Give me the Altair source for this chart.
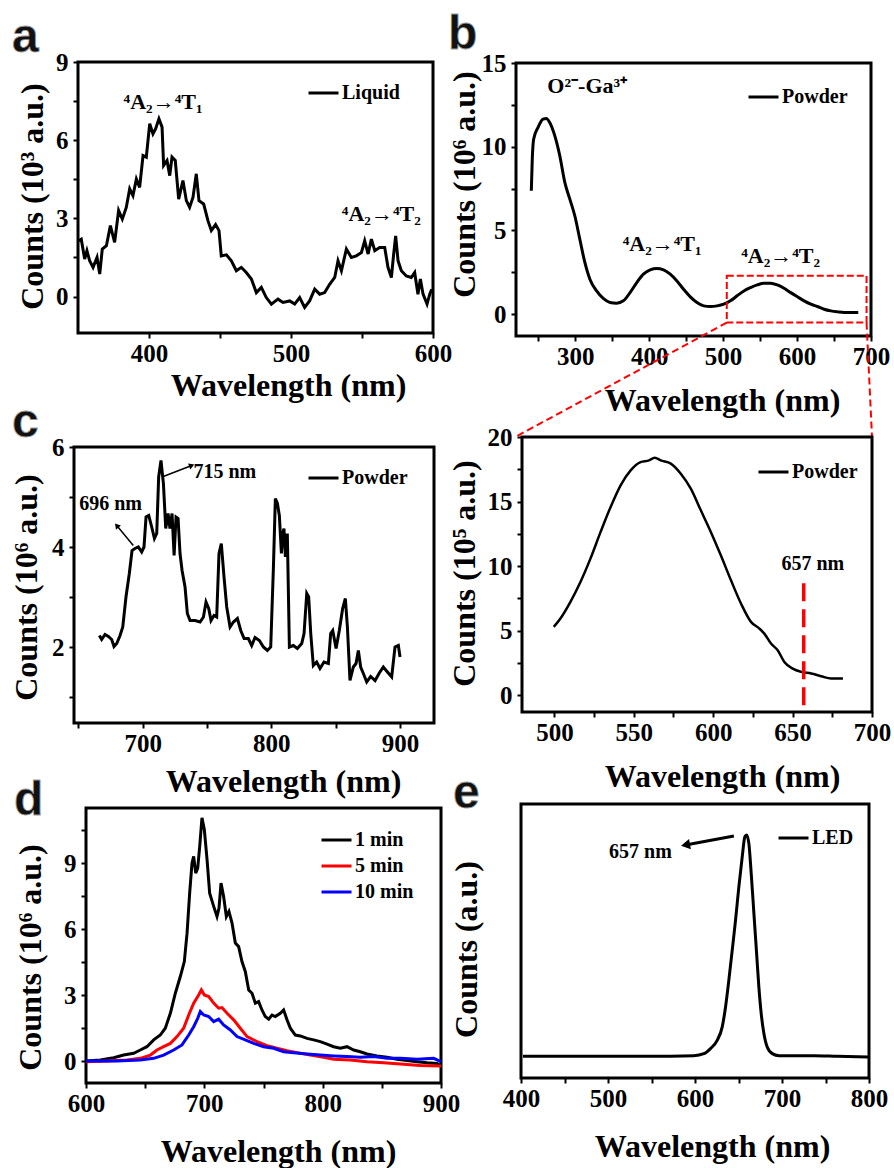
import math
import altair as alt
import pandas as pd

W, H = 894, 1168
SERIF = "Liberation Serif"
SANS = "Liberation Sans"

# ---------------- data ----------------
# (a) liquid, counts in 10^3 a.u.
a_wl = [350.5,352.3,354.7,356.3,358.2,360.6,363.4,365.3,367.1,370,372.8,375.8,378.6,381.2,384,386.4,388.7,391.1,393.4,395.8,398.1,400.5,402.8,404.7,407,409.2,410.3,412.7,414.6,416.2,418.5,420.9,423.9,426.3,428.6,431,433.3,435.2,438.5,441.5,443.9,446.9,449.3,450.9,454.5,458,461.5,465,468.5,472.1,475.6,479.1,482.6,486.2,490.8,494.4,499.1,502.6,506.1,509.6,513.1,516.7,520.2,523.7,527.2,530.8,533.1,535.5,539,542.5,546,549.6,551.9,554.3,556.6,559,562.4,566,568.3,570.7,572.3,573.7,575.4,577.7,581.2,584.7,587.1,589.4,591.1,593,595.8,597.7,599.1]
a_cnt = [2.14,2.2,1.44,1.76,1.37,1.12,1.5,0.86,1.82,1.95,2.72,2.08,3.3,2.97,3.42,4.13,3.87,4.51,4.19,5.41,5.35,6.63,6.24,6.44,6.82,6.5,5.03,5.22,4.64,5.35,5.22,3.74,4.45,3.68,3.42,3.81,4.71,3.68,3.55,2.91,2.53,2.76,2.53,1.56,1.6,1.37,0.99,1.12,0.92,0.67,0.15,0.35,-0.04,-0.29,-0.1,-0.23,-0.17,-0.29,-0.04,-0.42,-0.17,0.28,0.09,0.15,0.47,0.73,1.37,0.99,1.82,1.5,1.56,1.69,2.14,1.63,2.2,1.76,1.88,1.88,1.12,0.73,1.63,2.33,1.37,0.99,0.79,0.73,0.92,0.09,0.67,0.09,-0.29,0.09,0.28]

# (b) powder excitation, counts in 10^6 a.u.
b_wl = [240.7,242,243.9,249.8,256.6,261,265.6,272.4,279.2,286,292.8,299.5,306.3,313.1,319.9,329,338,347.1,356.1,365.2,374.2,383.3,392.3,401.4,410.4,419.5,428.5,437.6,446.6,455.7,464.7,473.8,482.8,491.9,500.9,510,519,528.1,537.1,546.2,555.2,564.3,573.3,582.4,591.4,600.5,609.5,618.6,627.6,636.7,645.7,654.8,663.8,672.9,682.8]
b_cnt = [7.37,9.26,10.46,11.16,11.65,11.69,11.45,10.66,9.46,7.87,6.87,5.88,4.48,3.09,2.09,1.39,0.94,0.7,0.66,0.8,1.29,1.89,2.39,2.65,2.73,2.65,2.39,1.99,1.49,1.04,0.7,0.5,0.46,0.5,0.6,0.8,1.1,1.39,1.59,1.75,1.85,1.85,1.75,1.55,1.29,1.04,0.8,0.6,0.46,0.3,0.2,0.14,0.1,0.1,0.1]

# (c) powder emission, counts in 10^6 a.u.
c_wl = [666.3,668.1,670.7,673.3,675.9,677.7,679.8,682.4,684.5,687,689.6,691.7,694,696.6,699.2,701,702.6,704.7,707,709.1,710.9,712.4,714.2,716.1,717.9,719.7,721.2,722.8,724.4,725.9,727.5,729,730.6,732.9,734.7,736.8,740.7,744.6,747.2,749.2,751.3,753.1,755.4,757.5,759.3,761.1,763.2,765.3,767.9,770.5,773.6,776.2,778.8,782.1,784.7,787.3,790.7,793.8,796.9,799.5,801.6,803.1,804.7,806.2,807.8,808.8,809.8,810.9,812.4,814,817.1,820.2,823.6,825.4,827.5,829,830.6,832.6,835.2,837.8,840.9,844.3,846.1,847.7,850.3,852.8,855.4,857.5,859.1,861.1,863.7,865.8,867.6,869.4,871.5,874.1,877.2,880.6,883.9,887,890.2,893.5,896.1,898.7,900]
c_cnt = [2.23,2.15,2.25,2.21,2.15,2.01,2.07,2.23,2.4,3,3.47,3.93,3.97,4,3.9,4,4.6,4.63,4.4,4.17,4.27,5.4,5.73,5.27,4.37,4.67,4.37,4.67,3.83,4.6,4.57,3.87,3.53,3.2,2.67,2.53,2.53,2.5,2.6,2.9,2.77,2.53,2.63,2.6,3.87,4.07,3.4,2.8,2.4,2.5,2.57,2.33,2.17,2.17,2.03,2.19,2.13,2,1.93,2,3.6,4.97,4.87,4.63,3.87,4.27,4.37,3.8,4.27,2,2.03,1.97,2.07,2.27,3.07,3,2.27,1.63,1.7,1.57,1.7,1.67,2.27,2.33,1.97,2.33,2.77,2.97,2.4,1.33,1.6,1.67,1.93,1.6,1.47,1.3,1.41,1.33,1.48,1.6,1.5,1.4,2,2.03,1.8]

# zoomed inset of (b), counts in 10^5 a.u.
i_wl = [499.6,503.8,510.1,516.4,522.7,529.1,535.4,541.7,548,554.3,559.6,563.2,566.9,573.3,579.6,585.9,592.2,598.5,604.8,611.2,617.5,623.8,629.1,632.2,636.4,640.6,644.8,650.1,655.4,661.7,668,674.3,681.7]
i_cnt = [5.29,5.94,7.23,8.77,10.58,12.65,14.58,16.26,17.42,18.06,18.19,18.4,18.19,17.94,17.16,16,14.32,12.65,10.84,8.9,7.1,5.68,5.16,4.77,4,3.48,2.58,2.06,1.81,1.68,1.47,1.29,1.29]

# (d) afterglow spectra, counts in 10^6 a.u.
d_series = ["1 min", "5 min", "10 min"]
d_colors = ["black", "red", "blue"]
d_wl_1 = [600,612.1,623.4,631.8,640.3,645.9,651.5,657.2,662.8,667,671.3,675.5,679.7,683.1,685.4,687.6,689.6,691,692.7,694.4,696.1,698,700,702.3,704.5,707.9,710.7,712.4,714.1,716.3,718.6,720.8,723.4,726.2,729,731.8,734.6,737.5,740.3,743.1,745.9,748.7,751.5,754.4,757.2,760,764.2,767,769.9,772.7,776.9,781.1,786.8,792.4,798,803.7,809.3,814.9,820.6,826.2,831.8,837.5,845.9,854.4,862.8,871.3,879.7,888.2,896.6,900]
d_cnt_1 = [0,0.05,0.15,0.27,0.35,0.5,0.65,0.96,1.18,1.49,2.17,3.08,3.84,4.52,5.81,7.63,9,9.3,8.54,8.77,9.76,11.05,10.52,9.15,7.63,7.03,6.57,6.95,8.09,7.48,6.57,6.8,6.27,5.36,5.2,4.52,4.07,3.23,3.08,2.63,2.7,2.32,2.02,1.9,2.09,2.02,2.17,2.32,1.87,1.49,1.18,1.14,1.03,0.96,0.88,0.77,0.65,0.58,0.65,0.5,0.42,0.32,0.23,0.17,0.08,0.02,-0.03,-0.08,-0.11,-0.23]
d_wl_5 = [600,617.7,634.6,645.9,654.4,660,665.6,671.3,676.9,682.5,686.8,691,695.2,697.5,700,703.7,707.9,712.1,714.9,719.2,724.8,730.4,736.1,744.5,753,761.4,769.9,778.3,789.6,800.8,809.3,823.4,837.5,851.5,865.6,882.5,900]
d_cnt_5 = [-0.03,0,0.05,0.12,0.27,0.5,0.65,0.8,1.11,1.49,2.09,2.63,3,3.23,3,2.93,2.63,2.4,2.43,2.17,1.87,1.49,1.11,0.88,0.7,0.58,0.47,0.38,0.27,0.17,0.08,0.05,-0.03,-0.08,-0.14,-0.2,-0.23]
d_wl_10 = [600,626.2,645.9,657.2,665.6,674.1,681.1,686.8,691,694.4,696.6,699.5,703.7,707.9,712.1,716.3,722,727.6,734.6,741.7,750.1,758.6,767,775.5,786.8,798,809.3,820.6,831.8,843.1,854.4,865.6,879.7,893.8,900]
d_cnt_10 = [0,0,0.05,0.12,0.27,0.5,0.73,1.18,1.56,1.94,2.25,2.09,2.02,1.79,1.9,1.64,1.41,1.11,0.96,0.8,0.65,0.58,0.42,0.38,0.32,0.27,0.23,0.2,0.17,0.2,0.12,0.12,0.08,0.12,-0.03]

# (e) LED spectrum, normalised counts
e_wl = [402.3,545,598.7,610.2,617.8,625.5,631.3,635.1,638.9,642.8,646.6,650.4,654.3,657.3,659.3,661.9,664.6,667.7,670.8,673.4,676.1,679.2,683,688.8,696.5,736.7,763.6,798.9]
e_cnt = [0,0,0.003,0.012,0.035,0.072,0.133,0.223,0.344,0.48,0.615,0.766,0.902,0.992,1,0.962,0.827,0.646,0.465,0.314,0.193,0.103,0.042,0.012,0.003,0.003,0,-0.003]

# annotations (data coordinates of their panel)
a_ann_x = [409.9, 563.6]
a_ann_y = [7.46, 3.17]
a_ann_t = ["\u2074A\u2082\u2192\u2074T\u2081", "\u2074A\u2082\u2192\u2074T\u2082"]
b_ann_x = [316.3, 417.6, 577.8]
b_ann_y = [13.65, 4.18, 3.49]
b_ann_t = ["O\u00b2\u207b-Ga\u00b3\u207a", "\u2074A\u2082\u2192\u2074T\u2081", "\u2074A\u2082\u2192\u2074T\u2082"]
b_box = [505, 694, -0.5, 2.3]            # zoom window drawn on (b)
c_ann_x = [763.8, 675]
c_ann_y = [5.5, 4.87]
c_ann_t = ["715 nm", "696 nm"]
c_arrow_from = [(716, 5.41), (692.7, 4.03)]
c_arrow_to = [(738.1, 5.63), (679.8, 4.43)]
i_mark_wl = 657
i_ann = (662.7, 10.2, "657 nm")
e_ann = (537.3, 0.925, "657 nm")
e_arrow_from = [(644.7, 0.995)]
e_arrow_to = [(589.1, 0.955)]

panel_letters = ["a", "b", "c", "d", "e"]

# ---------------- layout (pixels) ----------------
BOX = {  # left, right, top, bottom of each plot frame
    "a": (78, 433, 62, 333),
    "b": (516, 871, 63, 336),
    "c": (74, 434, 447, 723),
    "i": (522, 872, 437, 712),
    "d": (86, 441, 808, 1083),
    "e": (521, 869, 804, 1078),
}
DOM = {
    "a": ([350, 600], [-1.4, 9]),
    "b": ([220, 700], [-1.3, 15]),
    "c": ([646.6, 926.4], [0.48, 6]),
    "i": ([479.6, 700], [-1.3, 20]),
    "d": ([600, 900], [-1, 11.5]),
    "e": ([400, 800], [-0.098, 1.14]),
}
LETTER_POS = [(12, 52), (448, 49), (12, 437), (14, 815), (453, 808)]


def xs(p):
    l, r, t, b = BOX[p]
    return alt.Scale(domain=DOM[p][0], range=[l, r], nice=False, zero=False)


def ys(p):
    l, r, t, b = BOX[p]
    return alt.Scale(domain=DOM[p][1], range=[b, t], nice=False, zero=False)


AX = dict(domain=False, grid=False, ticks=True, tickSize=5, tickWidth=2, tickColor="black",
          labelFont=SERIF, labelFontSize=25, labelFontWeight="bold", labelColor="black",
          labelFlush=False, labelOverlap=False,
          titleFont=SERIF, titleFontSize=32, titleFontWeight="bold", titleColor="black")


def lab_expr(major):
    cond = " || ".join(f"datum.value == {m}" for m in major)
    return f"({cond}) ? format(datum.value, 'd') : ''"


def x_axis(p, values, major, tpad, tx):
    return alt.Axis(orient="bottom", offset=BOX[p][3] - H, values=values, labelExpr=lab_expr(major),
                    title="Wavelength (nm)", titlePadding=tpad, titleX=tx, labelPadding=3, **AX)


def y_axis(p, values, major, title, tpad, ty):
    return alt.Axis(orient="left", offset=-BOX[p][0], values=values, labelExpr=lab_expr(major),
                    title=title, titlePadding=tpad, titleY=ty, labelPadding=5, **AX)


def legend(lx, ly):
    return alt.Legend(orient="none", legendX=lx, legendY=ly, direction="vertical", title=None,
                      symbolType="stroke", symbolStrokeWidth=3, symbolSize=900, clipHeight=26,
                      rowPadding=0, padding=0, labelFont=SERIF, labelFontSize=20,
                      labelFontWeight="bold", labelColor="black", labelOffset=2)


def frame(p):
    (x0, x1), (y0, y1) = DOM[p]
    df = pd.DataFrame({"x0": [x0], "x1": [x1], "y0": [y0], "y1": [y1]})
    return alt.Chart(df).mark_rect(fillOpacity=0, stroke="black", strokeWidth=3).encode(
        x=alt.X("x0:Q", scale=xs(p), axis=None), x2="x1:Q",
        y=alt.Y("y0:Q", scale=ys(p), axis=None), y2="y1:Q")


def series_df(wl, cnt, name):
    n = min(len(wl), len(cnt))
    return pd.DataFrame({"wl": wl[:n], "cnt": cnt[:n], "series": [name] * n})


def curve(p, df, xaxis, yaxis, dom, rng, leg, interp="linear", sw=3):
    return alt.Chart(df).mark_line(strokeWidth=sw, interpolate=interp).encode(
        x=alt.X("wl:Q", scale=xs(p), axis=xaxis),
        y=alt.Y("cnt:Q", scale=ys(p), axis=yaxis),
        color=alt.Color("series:N", scale=alt.Scale(domain=dom, range=rng), legend=leg))


def texts(p, xv, yv, tv, size=22, color="black"):
    df = pd.DataFrame({"x": xv, "y": yv, "t": tv})
    return alt.Chart(df).mark_text(font=SERIF, fontSize=size, fontWeight="bold", color=color,
                                   align="center", baseline="middle").encode(
        x=alt.X("x:Q", scale=xs(p), axis=None), y=alt.Y("y:Q", scale=ys(p), axis=None), text="t:N")


def segs(p, p1, p2, color="black", sw=2, dash=None):
    df = pd.DataFrame({"x": [q[0] for q in p1], "y": [q[1] for q in p1],
                       "x2": [q[0] for q in p2], "y2": [q[1] for q in p2]})
    kw = dict(color=color, strokeWidth=sw)
    if dash:
        kw["strokeDash"] = dash
    return alt.Chart(df).mark_rule(**kw).encode(
        x=alt.X("x:Q", scale=xs(p), axis=None), y=alt.Y("y:Q", scale=ys(p), axis=None),
        x2="x2:Q", y2="y2:Q")


def px_angle(p, a, b):
    l, r, t, bt = BOX[p]
    (dx0, dx1), (dy0, dy1) = DOM[p]
    sx = (r - l) / (dx1 - dx0)
    sy = (bt - t) / (dy1 - dy0)
    return math.degrees(math.atan2(-(b[1] - a[1]) * sy, (b[0] - a[0]) * sx)) % 360


def arrows(p, p1, p2, sw, head):
    line = segs(p, p1, p2, sw=sw)
    df = pd.DataFrame({"x": [q[0] for q in p2], "y": [q[1] for q in p2],
                       "ang": [px_angle(p, a, b) for a, b in zip(p1, p2)]})
    tip = alt.Chart(df).mark_point(shape="triangle-right", filled=True, size=head, color="black",
                                   opacity=1).encode(
        x=alt.X("x:Q", scale=xs(p), axis=None), y=alt.Y("y:Q", scale=ys(p), axis=None),
        angle=alt.Angle("ang:Q", scale=None))
    return [line, tip]


layers = []

# ---- (a)
layers.append(frame("a"))
layers.append(curve("a", series_df(a_wl, a_cnt, "Liquid"),
                    x_axis("a", [400, 450, 500, 550, 600], [400, 500, 600], 4, 288),
                    y_axis("a", [0, 1.5, 3, 4.5, 6, 7.5, 9], [0, 3, 6, 9], "Counts (10\u00b3 a.u.)", 6, 196),
                    ["Liquid"], ["black"], legend(307, 80)))
layers.append(texts("a", a_ann_x, a_ann_y, a_ann_t))

# ---- (b)
layers.append(frame("b"))
layers.append(curve("b", series_df(b_wl, b_cnt, "Powder"),
                    x_axis("b", list(range(250, 701, 50)), [300, 400, 500, 600, 700], 16, 722),
                    y_axis("b", [0, 2.5, 5, 7.5, 10, 12.5, 15], [0, 5, 10, 15], "Counts (10\u2076 a.u.)", 0, 184),
                    ["Powder"], ["black"], legend(747, 84), interp="monotone"))
layers.append(texts("b", b_ann_x, b_ann_y, b_ann_t))
bdf = pd.DataFrame({"x0": [b_box[0]], "x1": [b_box[1]], "y0": [b_box[2]], "y1": [b_box[3]]})
layers.append(alt.Chart(bdf).mark_rect(fillOpacity=0, stroke="red", strokeWidth=2, strokeDash=[7, 3]).encode(
    x=alt.X("x0:Q", scale=xs("b"), axis=None), x2="x1:Q",
    y=alt.Y("y0:Q", scale=ys("b"), axis=None), y2="y1:Q"))
# connectors from the window on (b) to the top corners of the inset frame
layers.append(segs("b", [(b_box[0], b_box[2]), (b_box[1], b_box[2])], [(221.4, -7.27), (701.3, -7.27)],
                   color="red", sw=2, dash=[7, 4]))

# ---- (c)
layers.append(frame("c"))
layers.append(curve("c", series_df(c_wl, c_cnt, "Powder"),
                    x_axis("c", [650, 700, 750, 800, 850, 900], [700, 800, 900], 10, 283),
                    y_axis("c", [1, 2, 3, 4, 5, 6], [2, 4, 6], "Counts (10\u2076 a.u.)", 8, 587),
                    ["Powder"], ["black"], legend(307, 465)))
layers.append(texts("c", c_ann_x, c_ann_y, c_ann_t, size=20))
layers += arrows("c", c_arrow_from, c_arrow_to, 1.5, 40)

# ---- inset
layers.append(frame("i"))
layers.append(curve("i", series_df(i_wl, i_cnt, "Powder"),
                    x_axis("i", list(range(500, 701, 25)), [500, 550, 600, 650, 700], 16, 722),
                    y_axis("i", [0, 2.5, 5, 7.5, 10, 12.5, 15, 17.5, 20], [0, 5, 10, 15, 20],
                           "Counts (10\u2075 a.u.)", 6, 573),
                    ["Powder"], ["black"], legend(757, 459), interp="monotone", sw=2.5))
layers.append(segs("i", [(i_mark_wl, -0.77)], [(i_mark_wl, 9.16)], color="red", sw=3.5, dash=[18, 8]))
layers.append(texts("i", [i_ann[0]], [i_ann[1]], [i_ann[2]], size=20))

# ---- (d)
d_df = pd.concat([series_df(d_wl_1, d_cnt_1, d_series[0]),
                  series_df(d_wl_5, d_cnt_5, d_series[1]),
                  series_df(d_wl_10, d_cnt_10, d_series[2])], ignore_index=True)
layers.append(frame("d"))
layers.append(curve("d", d_df,
                    x_axis("d", [600, 650, 700, 750, 800, 850, 900], [600, 700, 800, 900], 20, 278),
                    y_axis("d", [0, 1.5, 3, 4.5, 6, 7.5, 9, 10.5], [0, 3, 6, 9], "Counts (10\u2076 a.u.)", 16, 957),
                    d_series, d_colors, legend(320, 827)))

# ---- (e)
layers.append(frame("e"))
e_yaxis = alt.Axis(orient="left", offset=-BOX["e"][0], values=[], labels=False, ticks=False, domain=False,
                   grid=False, minExtent=0, title="Counts (a.u.)", titlePadding=38, titleY=949,
                   titleFont=SERIF, titleFontSize=32, titleFontWeight="bold", titleColor="black")
layers.append(curve("e", series_df(e_wl, e_cnt, "LED"),
                    x_axis("e", list(range(400, 801, 50)), [400, 500, 600, 700, 800], 20, 712),
                    e_yaxis, ["LED"], ["black"], legend(777, 825), interp="monotone"))
layers.append(texts("e", [e_ann[0]], [e_ann[1]], [e_ann[2]], size=20))
layers += arrows("e", e_arrow_from, e_arrow_to, 3, 110)

# ---- panel letters
let_df = pd.DataFrame({"letter": panel_letters,
                       "px": [p[0] for p in LETTER_POS], "py": [p[1] for p in LETTER_POS]})
layers.append(alt.Chart(let_df).mark_text(
    font=SANS, fontSize=48, fontWeight="bold", align="left", baseline="alphabetic",
    color="#111111", stroke="#9a9a9a", strokeWidth=0.8).encode(
    x=alt.X("px:Q", scale=None), y=alt.Y("py:Q", scale=None), text="letter:N"))

chart = alt.layer(*layers).resolve_scale(
    x="independent", y="independent", color="independent"
).resolve_axis(x="independent", y="independent").resolve_legend(color="independent").properties(
    width=W, height=H, padding=0, background="white",
    autosize=alt.AutoSizeParams(type="none")
).configure_view(stroke=None)

chart.save("out.html", embed_options={"renderer": "svg", "actions": False})
